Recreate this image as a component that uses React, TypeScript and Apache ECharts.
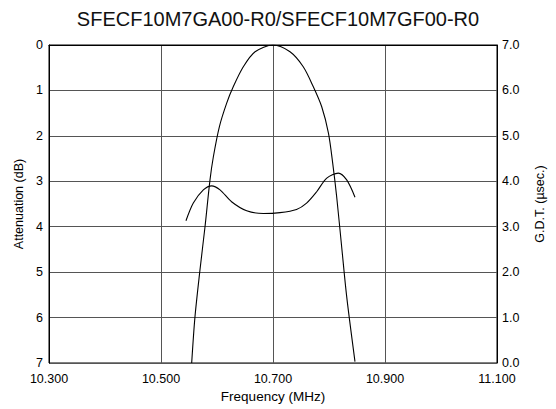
import React, { useEffect, useRef } from "react";
import * as echarts from "echarts";

const titleText = "SFECF10M7GA00-R0/SFECF10M7GF00-R0";
const attFreq = [10.5548, 10.5607, 10.5696, 10.5786, 10.5875, 10.5935, 10.6042, 10.6173, 10.629, 10.647, 10.668, 10.7, 10.7304, 10.754, 10.772, 10.787, 10.799, 10.8066, 10.8137, 10.8226, 10.8316, 10.8464];
const attValues = [7.0, 5.98, 4.95, 4.0, 2.97, 2.46, 1.8, 1.28, 0.92, 0.48, 0.15, 0.0, 0.15, 0.48, 0.92, 1.36, 1.94, 2.6, 3.34, 4.44, 5.54, 6.97];
const gdtFreq = [10.5446, 10.5577, 10.5756, 10.5905, 10.6054, 10.626, 10.653, 10.683, 10.7125, 10.742, 10.76, 10.778, 10.796, 10.8166, 10.8316, 10.8464];
const gdtValues = [3.13, 3.52, 3.81, 3.9, 3.81, 3.55, 3.35, 3.29, 3.31, 3.38, 3.52, 3.77, 4.07, 4.18, 4.03, 3.65];

export default function App() {
  const ref = useRef<HTMLDivElement>(null);
  useEffect(() => {
    if (!ref.current) return;
    const chart = echarts.init(ref.current, null, { renderer: "svg" });
    const font = "Liberation Sans, Arial, sans-serif";
    chart.setOption({
      animation: false,
      backgroundColor: "#fff",
      title: {
        text: titleText,
        left: "center",
        top: 4,
        textStyle: { fontFamily: font, fontSize: 20, fontWeight: "normal", color: "#111" },
      },
      grid: { left: 49, right: 59, top: 45, bottom: 46, show: true, borderColor: "#000", borderWidth: 1, backgroundColor: "transparent" },
      xAxis: {
        type: "value",
        min: 10.3,
        max: 11.1,
        interval: 0.2,
        name: "Frequency (MHz)",
        nameLocation: "middle",
        nameGap: 26,
        nameTextStyle: { fontFamily: font, fontSize: 13.5, color: "#000" },
        axisLine: { show: true, lineStyle: { color: "#000" } },
        axisTick: { show: false },
        axisLabel: { fontFamily: font, fontSize: 12.5, color: "#000", margin: 9, formatter: (v: number) => v.toFixed(3) },
        splitLine: { show: true, lineStyle: { color: "#555", width: 1 } },
      },
      yAxis: [
        {
          type: "value",
          inverse: true,
          min: 0,
          max: 7,
          interval: 1,
          name: "Attenuation (dB)",
          nameLocation: "middle",
          nameGap: 24,
          nameTextStyle: { fontFamily: font, fontSize: 12.5, color: "#000" },
          axisLine: { show: true, lineStyle: { color: "#000" } },
          axisTick: { show: false },
          axisLabel: { fontFamily: font, fontSize: 12.5, color: "#000", margin: 6 },
          splitLine: { show: true, lineStyle: { color: "#555", width: 1 } },
        },
        {
          type: "value",
          position: "right",
          min: 0,
          max: 7,
          interval: 1,
          name: "G.D.T. (µsec.)",
          nameLocation: "middle",
          nameGap: 36,
          nameRotate: 90,
          nameTextStyle: { fontFamily: font, fontSize: 12.5, color: "#000" },
          axisLine: { show: true, lineStyle: { color: "#000" } },
          axisTick: { show: false },
          axisLabel: { fontFamily: font, fontSize: 12.5, color: "#000", margin: 5, formatter: (v: number) => v.toFixed(1) },
          splitLine: { show: false },
        },
      ],
      series: [
        {
          type: "line",
          yAxisIndex: 0,
          data: attFreq.map((f, i) => [f, attValues[i]]),
          smooth: 0.3,
          showSymbol: false,
          lineStyle: { color: "#000", width: 1.1 },
        },
        {
          type: "line",
          yAxisIndex: 1,
          data: gdtFreq.map((f, i) => [f, gdtValues[i]]),
          smooth: 0.3,
          showSymbol: false,
          lineStyle: { color: "#000", width: 1.1 },
        },
      ],
    });
    return () => chart.dispose();
  }, []);
  return <div ref={ref} style={{ position: "fixed", left: 0, top: 0, width: 556, height: 409 }} />;
}
